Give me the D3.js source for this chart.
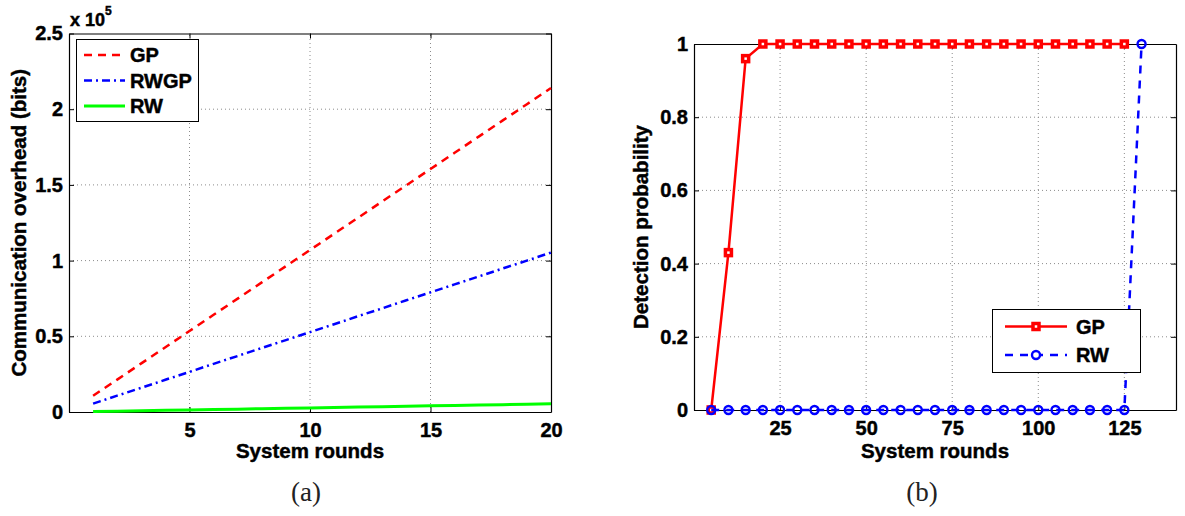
<!DOCTYPE html>
<html>
<head>
<meta charset="utf-8">
<script src="https://cdn.jsdelivr.net/npm/d3@7"></script>
<style>
  html, body { margin: 0; padding: 0; background: #fff; }
  svg text { font-family: "Liberation Sans", Arial, Helvetica, sans-serif; font-weight: bold; fill: #000;
             stroke: #000; stroke-width: 0.45px; }
  svg text.caption { font-family: "Liberation Serif", "Times New Roman", serif; font-weight: normal;
                     fill: #222; stroke: none; }
</style>
</head>
<body>
<svg id="chart" width="1185" height="516"></svg>
<script>
// ---- (a) communication overhead vs. system rounds ----
const roundsA = [1, 2, 3, 4, 5, 6, 7, 8, 9, 10, 11, 12, 13, 14, 15, 16, 17, 18, 19, 20];
const overheadGP = [10700, 21400, 32100, 42800, 53500, 64200, 74900, 85600, 96300, 107000,
                    117700, 128400, 139100, 149800, 160500, 171200, 181900, 192600, 203300, 214000];
const overheadRWGP = [5500, 10800, 16000, 21300, 26500, 31800, 37000, 42300, 47500, 52800,
                      58000, 63300, 68500, 73800, 79000, 84300, 89500, 94800, 100000, 105300];
const overheadRW = [270, 540, 810, 1080, 1350, 1620, 1890, 2160, 2430, 2700,
                    2970, 3240, 3510, 3780, 4050, 4320, 4590, 4860, 5130, 5400];
const xTicksA = [5, 10, 15, 20];
const yTicksA = [0, 50000, 100000, 150000, 200000, 250000];

// ---- (b) detection probability vs. system rounds ----
const roundsB = [5, 10, 15, 20, 25, 30, 35, 40, 45, 50, 55, 60, 65, 70, 75, 80, 85, 90, 95, 100,
                 105, 110, 115, 120, 125, 130];
const detectGP = [0, 0.43, 0.96, 1, 1, 1, 1, 1, 1, 1, 1, 1, 1, 1, 1, 1, 1, 1, 1, 1,
                  1, 1, 1, 1, 1];
const detectRW = [0, 0, 0, 0, 0, 0, 0, 0, 0, 0, 0, 0, 0, 0, 0, 0, 0, 0, 0, 0,
                  0, 0, 0, 0, 0, 1];
const xTicksB = [25, 50, 75, 100, 125];
const yTicksB = [0, 0.2, 0.4, 0.6, 0.8, 1];

const svg = d3.select("#chart");
const GRID = "#8c8c8c";

function drawFrame(g, x, y, xTicks, yTicks, yFmt) {
  const [x0, x1] = x.range();
  const [y0, y1] = y.range();
  // dotted grid
  g.append("g").selectAll("line").data(xTicks.filter(v => x(v) > x0 + 1 && x(v) < x1 - 1)).join("line")
    .attr("x1", d => x(d)).attr("x2", d => x(d)).attr("y1", y0).attr("y2", y1)
    .attr("stroke", GRID).attr("stroke-width", 1).attr("stroke-dasharray", "1,3");
  g.append("g").selectAll("line").data(yTicks.filter(v => y(v) < y0 - 1 && y(v) > y1 + 1)).join("line")
    .attr("y1", d => y(d)).attr("y2", d => y(d)).attr("x1", x0).attr("x2", x1)
    .attr("stroke", GRID).attr("stroke-width", 1).attr("stroke-dasharray", "1,3");

  // axes with inward ticks on all four sides
  const bottom = g.append("g").attr("transform", `translate(0,${y0})`)
    .call(d3.axisBottom(x).tickValues(xTicks).tickSizeInner(-5).tickSizeOuter(0).tickPadding(11));
  const top = g.append("g").attr("transform", `translate(0,${y1})`)
    .call(d3.axisTop(x).tickValues(xTicks).tickSizeInner(-5).tickSizeOuter(0).tickFormat(""));
  const left = g.append("g").attr("transform", `translate(${x0},0)`)
    .call(d3.axisLeft(y).tickValues(yTicks).tickSizeInner(-5).tickSizeOuter(0).tickPadding(6).tickFormat(yFmt));
  const right = g.append("g").attr("transform", `translate(${x1},0)`)
    .call(d3.axisRight(y).tickValues(yTicks).tickSizeInner(-5).tickSizeOuter(0).tickFormat(""));
  [bottom, top, left, right].forEach(a => {
    a.select(".domain").attr("stroke", "#000").attr("stroke-width", 1.2);
    a.selectAll(".tick line").attr("stroke", "#000");
    a.selectAll("text").attr("font-size", 20).attr("font-family", null);
  });
}

// ================= panel (a) =================
const xA = d3.scaleLinear().domain([0, 20]).range([69, 551]);
const yA = d3.scaleLinear().domain([0, 250000]).range([412, 33.5]);
const gA = svg.append("g");
drawFrame(gA, xA, yA, xTicksA, yTicksA, d => d3.format("~g")(d / 1e5));

const lineA = vals => d3.line().x((d, i) => xA(roundsA[i])).y(d => yA(d))(vals);
const seriesA = [
  { name: "GP", vals: overheadGP, color: "#ff0000", dash: "8,6", width: 2.5 },
  { name: "RWGP", vals: overheadRWGP, color: "#0000ff", dash: "8,4,2,4", width: 2.5 },
  { name: "RW", vals: overheadRW, color: "#00ff00", dash: null, width: 3 }
];
seriesA.forEach(s => {
  gA.append("path").attr("d", lineA(s.vals)).attr("fill", "none")
    .attr("stroke", s.color).attr("stroke-width", s.width)
    .attr("stroke-dasharray", s.dash);
});

// exponent label
const expo = gA.append("text").attr("x", 70).attr("y", 26).attr("font-size", 18);
expo.append("tspan").text("x 10");
expo.append("tspan").attr("font-size", 12).attr("dy", -11).text("5");

// axis titles
gA.append("text").attr("transform", `translate(26,${(412 + 33.5) / 2}) rotate(-90)`)
  .attr("text-anchor", "middle").attr("font-size", 20.5).text("Communication overhead (bits)");
gA.append("text").attr("x", (69 + 551) / 2).attr("y", 458).attr("text-anchor", "middle")
  .attr("font-size", 20.5).text("System rounds");

// legend
const legA = gA.append("g");
legA.append("rect").attr("x", 76.5).attr("y", 39.5).attr("width", 122).attr("height", 82)
  .attr("fill", "#fff").attr("stroke", "#000").attr("stroke-width", 1);
seriesA.forEach((s, i) => {
  const yy = 55 + i * 25.5;
  legA.append("line").attr("x1", 84).attr("x2", 125).attr("y1", yy).attr("y2", yy)
    .attr("stroke", s.color).attr("stroke-width", s.width).attr("stroke-dasharray", s.dash);
  legA.append("text").attr("x", 130).attr("y", yy + 7).attr("font-size", 20).text(s.name);
});

gA.append("text").attr("class", "caption").attr("x", 306).attr("y", 501)
  .attr("text-anchor", "middle").attr("font-size", 27).text("(a)");

// ================= panel (b) =================
const xB = d3.scaleLinear().domain([0, 140]).range([694, 1176]);
const yB = d3.scaleLinear().domain([0, 1]).range([410, 44]);
const gB = svg.append("g");
drawFrame(gB, xB, yB, xTicksB, yTicksB, d => d3.format("~g")(d));

const lineB = d3.line().x(d => xB(d[0])).y(d => yB(d[1]));
const gpPts = detectGP.map((v, i) => [roundsB[i], v]);
const rwPts = detectRW.map((v, i) => [roundsB[i], v]);

gB.append("path").attr("d", lineB(gpPts)).attr("fill", "none")
  .attr("stroke", "#ff0000").attr("stroke-width", 2.5);
gB.append("g").selectAll("rect").data(gpPts).join("rect")
  .attr("x", d => xB(d[0]) - 3).attr("y", d => yB(d[1]) - 3)
  .attr("width", 6).attr("height", 6).attr("fill", "#fff")
  .attr("stroke", "#ff0000").attr("stroke-width", 3.5);

gB.append("path").attr("d", lineB(rwPts)).attr("fill", "none")
  .attr("stroke", "#0000ff").attr("stroke-width", 2.5).attr("stroke-dasharray", "8,7");
gB.append("g").selectAll("circle").data(rwPts).join("circle")
  .attr("cx", d => xB(d[0])).attr("cy", d => yB(d[1])).attr("r", 4)
  .attr("fill", "none").attr("stroke", "#0000ff").attr("stroke-width", 2.4);

gB.append("text").attr("transform", `translate(648,${(410 + 44) / 2}) rotate(-90)`)
  .attr("text-anchor", "middle").attr("font-size", 20.5).text("Detection probability");
gB.append("text").attr("x", (694 + 1176) / 2).attr("y", 458).attr("text-anchor", "middle")
  .attr("font-size", 20.5).text("System rounds");

// legend
const legB = gB.append("g");
legB.append("rect").attr("x", 992.5).attr("y", 309.5).attr("width", 148).attr("height", 63)
  .attr("fill", "#fff").attr("stroke", "#000").attr("stroke-width", 1);
const seriesB = [
  { name: "GP", color: "#ff0000", dash: null, marker: "square" },
  { name: "RW", color: "#0000ff", dash: "8,7", marker: "circle" }
];
seriesB.forEach((s, i) => {
  const yy = 326.5 + i * 28.5;
  legB.append("line").attr("x1", 1005).attr("x2", 1067).attr("y1", yy).attr("y2", yy)
    .attr("stroke", s.color).attr("stroke-width", 2.5).attr("stroke-dasharray", s.dash);
  if (s.marker === "square") {
    legB.append("rect").attr("x", 1036 - 3).attr("y", yy - 3).attr("width", 6).attr("height", 6)
      .attr("fill", "#fff").attr("stroke", s.color).attr("stroke-width", 3.5);
  } else {
    legB.append("circle").attr("cx", 1036).attr("cy", yy).attr("r", 4)
      .attr("fill", "#fff").attr("stroke", s.color).attr("stroke-width", 2.4);
  }
  legB.append("text").attr("x", 1076).attr("y", yy + 7).attr("font-size", 20).text(s.name);
});

gB.append("text").attr("class", "caption").attr("x", 922).attr("y", 501)
  .attr("text-anchor", "middle").attr("font-size", 27).text("(b)");
</script>
</body>
</html>
